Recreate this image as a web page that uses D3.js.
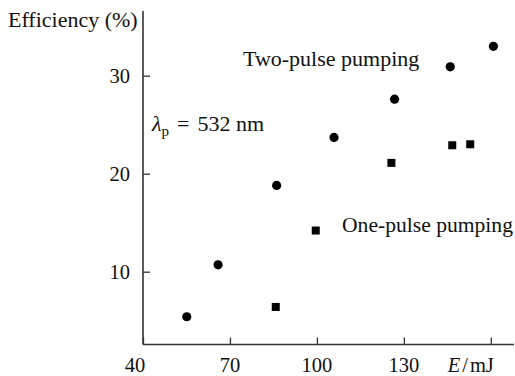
<!DOCTYPE html>
<html>
<head>
  <meta charset="utf-8">
  <style>
    body { margin: 0; background: #fff; }
  </style>
  <title>Efficiency vs pump energy</title>
</head>
<body>
  <script src="https://cdn.jsdelivr.net/npm/d3@7"></script>
  <script>
    // data
    const twoPulseE = [55.1, 65.9, 86.1, 105.9, 126.8, 146.0, 160.9];
    const twoPulseEff = [5.4, 10.7, 18.8, 23.7, 27.6, 30.9, 33.0];
    const onePulseE = [85.8, 99.6, 125.7, 146.7, 152.9];
    const onePulseEff = [6.4, 14.2, 21.1, 22.9, 23.0];

    const xTicks = [40, 70, 100, 130, 160];
    const xTickLabels = ["40", "70", "100", "130", "E/mJ"];
    const yTicks = [10, 20, 30];

    const width = 515, height = 376;
    const tickFont = 20.5;   // tick labels
    const noteFont = 22;     // titles and annotations
    const serif = "Liberation Serif";

    const svg = d3.select("body").append("svg")
      .attr("width", width)
      .attr("height", height);

    // helper so every text gets the serif face
    function addText(x0, y0, size) {
      return svg.append("text")
        .attr("x", x0)
        .attr("y", y0)
        .attr("fill", "#111")
        .style("font-family", serif)
        .style("font-size", size + "px");
    }

    // scales
    const x = d3.scaleLinear().domain([40, 168]).range([143, 514]);
    const y = d3.scaleLinear().domain([2.57, 36.6]).range([344.5, 11]);

    // x axis, ticks pointing up
    const xAxis = svg.append("g")
      .attr("transform", `translate(0,${y.range()[0]})`)
      .call(d3.axisTop(x).tickValues(xTicks).tickSize(7).tickSizeOuter(0).tickFormat(""));
    xAxis.select(".domain").attr("stroke", "#333").attr("stroke-width", 1.6).attr("d", `M${x.range()[0]},0H${x.range()[1]}`);
    xAxis.selectAll(".tick line").attr("stroke", "#333").attr("stroke-width", 1.3);

    // y axis, ticks pointing right
    const yAxis = svg.append("g")
      .attr("transform", `translate(${x.range()[0]},0)`)
      .call(d3.axisRight(y).tickValues(yTicks).tickSize(7).tickSizeOuter(0).tickFormat(""));
    yAxis.select(".domain").attr("stroke", "#333").attr("stroke-width", 1.6).attr("d", `M0,${y.range()[0]}V${y.range()[1]}`);
    yAxis.selectAll(".tick line").attr("stroke", "#333").attr("stroke-width", 1.3);

    // x tick labels
    xTicks.forEach((d, i) => {
      const last = i === xTicks.length - 1;
      const t = addText(i === 0 ? x(d) - 8 : (last ? x(d) + 3 : x(d)), 372, tickFont)
        .style("text-anchor", last ? "end" : "middle");
      const lab = xTickLabels[i];
      if (lab.startsWith("E/")) {
        t.append("tspan").style("font-style", "italic").text("E");
        t.append("tspan").attr("dx", 2).text("/");
        t.append("tspan").attr("dx", 2).text(lab.slice(2));
      } else {
        t.text(lab);
      }
    });

    // y tick labels
    yTicks.forEach((d) => {
      addText(130, y(d) + 7, tickFont)
        .style("text-anchor", "end")
        .text(d);
    });

    // y axis title
    addText(8, 27, noteFont).text("Efficiency (%)");

    // two-pulse points
    svg.selectAll(".dot")
      .data(twoPulseE)
      .enter()
      .append("circle")
      .attr("class", "dot")
      .attr("cx", (d) => x(d))
      .attr("cy", (d, i) => y(twoPulseEff[i]))
      .attr("r", 4.6)
      .attr("fill", "#000");

    // one-pulse points
    const s = 8;
    svg.selectAll(".sq")
      .data(onePulseE)
      .enter()
      .append("rect")
      .attr("class", "sq")
      .attr("x", (d) => x(d) - s / 2)
      .attr("y", (d, i) => y(onePulseEff[i]) - s / 2)
      .attr("width", s)
      .attr("height", s)
      .attr("fill", "#000");

    // annotations
    addText(243, 66, noteFont).text("Two-pulse pumping");
    addText(342, 232, 21.6).text("One-pulse pumping");

    // lambda_p = 532 nm, with math-style spacing round "="
    const lam = addText(152, 131, noteFont);
    lam.append("tspan").style("font-style", "italic").text("\u03BB");
    lam.append("tspan").attr("dy", 5).style("font-size", "15px").text("p");
    lam.append("tspan").attr("dy", -5).attr("dx", 8).text("=");
    lam.append("tspan").attr("dx", 8).text("532 nm");
  </script>
</body>
</html>
